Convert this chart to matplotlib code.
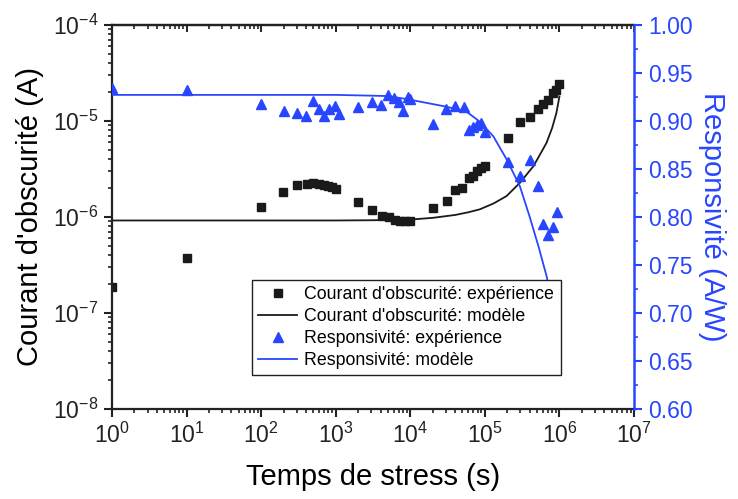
import matplotlib
matplotlib.use("Agg")
import matplotlib.pyplot as plt
from matplotlib.lines import Line2D
from matplotlib.ticker import LogLocator, MultipleLocator, NullFormatter

plt.rcParams['font.family'] = ['Liberation Sans', 'DejaVu Sans']
plt.rcParams['mathtext.fontset'] = 'custom'
plt.rcParams['mathtext.rm'] = 'Liberation Sans'
plt.rcParams['mathtext.it'] = 'Liberation Sans:italic'
plt.rcParams['mathtext.bf'] = 'Liberation Sans:bold'
plt.rcParams['mathtext.default'] = 'regular'

# Dark current experiment
t_dark = [1, 10, 100, 195, 300, 410, 500, 600, 700, 800, 900, 1000, 2000, 3100, 4200, 5200,
          6200, 7300, 8500, 9800, 2.0e4, 3.1e4, 4.0e4, 5.0e4, 6.1e4, 6.9e4, 7.9e4, 8.8e4, 1.02e5,
          2.05e5, 3.0e5, 4.0e5, 5.1e5, 6.0e5, 7.1e5, 8.2e5, 9.0e5, 1.0e6]
i_dark = [1.86e-7, 3.7e-7, 1.26e-6, 1.8e-6, 2.13e-6, 2.22e-6, 2.27e-6, 2.22e-6, 2.17e-6, 2.1e-6,
          2.03e-6, 1.97e-6, 1.45e-6, 1.17e-6, 1.03e-6, 1.0e-6, 9.2e-7, 9.0e-7, 9.0e-7, 9.0e-7,
          1.25e-6, 1.46e-6, 1.9e-6, 2.0e-6, 2.55e-6, 2.7e-6, 3.0e-6, 3.25e-6, 3.4e-6,
          6.7e-6, 9.8e-6, 1.09e-5, 1.33e-5, 1.5e-5, 1.66e-5, 1.95e-5, 2.1e-5, 2.4e-5]

# Dark current model
t_dark_mod = [1, 1e2, 1e3, 3e3, 1e4, 2e4, 4e4, 6e4, 8.5e4, 1.3e5, 1.95e5, 2.95e5, 4.5e5,
              6.7e5, 8e5, 9.1e5, 1e6]
i_dark_mod = [9.2e-7, 9.2e-7, 9.2e-7, 9.25e-7, 9.4e-7, 9.8e-7, 1.05e-6, 1.12e-6, 1.2e-6,
              1.38e-6, 1.65e-6, 2.27e-6, 3.4e-6, 5.9e-6, 8.5e-6, 1.21e-5, 1.8e-5]

# Responsivity experiment
t_resp = [1, 10, 100, 200, 300, 400, 500, 590, 700, 820, 990, 1100, 2000, 3100, 4100, 5100,
          6000, 7000, 8000, 9400, 1.0e4, 2.0e4, 3.0e4, 4.0e4, 5.2e4, 6.1e4, 7.0e4, 7.9e4, 9.0e4,
          1.02e5, 2.05e5, 3.0e5, 4.05e5, 5.1e5, 6.0e5, 7.1e5, 8.2e5, 9.3e5]
r_resp = [0.934, 0.932, 0.9176, 0.9106, 0.9088, 0.9047, 0.921, 0.912, 0.9054, 0.912, 0.916,
          0.9075, 0.9145, 0.9196, 0.9168, 0.927, 0.9238, 0.920, 0.910, 0.925, 0.923, 0.8968,
          0.913, 0.9158, 0.915, 0.891, 0.8937, 0.896, 0.8984, 0.8888, 0.857, 0.8423, 0.8597,
          0.832, 0.7928, 0.781, 0.790, 0.805]

# Responsivity model
t_resp_mod = [1, 1e3, 5e3, 9e3, 3e4, 5.6e4, 8.5e4, 1.3e5, 1.96e5, 2.95e5, 4e5, 5.3e5, 6.8e5, 8e5]
r_resp_mod = [0.9272, 0.9272, 0.926, 0.9228, 0.915, 0.91, 0.8995, 0.884, 0.86, 0.832, 0.80,
              0.768, 0.737, 0.70]

BLUE = '#2846ff'
DARK = '#1a1a1a'
TXT = '#222222'

fig = plt.figure(figsize=(7.38, 4.99), dpi=100)
ax = fig.add_axes([112/738, 1-409/499, (634-112)/738, (409-25)/499])
ax2 = ax.twinx()

ax.plot(t_dark_mod, i_dark_mod, '-', color=DARK, lw=1.3)
ax.plot(t_dark, i_dark, 's', color=DARK, ms=5.2, mec=DARK)
ax2.plot(t_resp_mod, r_resp_mod, '-', color=BLUE, lw=1.3)
ax2.plot(t_resp, r_resp, '^', color=BLUE, ms=7, mec=BLUE)

ax.set_xscale('log')
ax.set_yscale('log')
ax.set_xlim(1, 1e7)
ax.set_ylim(1e-8, 1e-4)
ax2.set_ylim(0.60, 1.00)

ax.xaxis.set_major_locator(LogLocator(base=10, numticks=20))
ax.xaxis.set_minor_locator(LogLocator(base=10, subs=range(2, 10), numticks=20))
ax.xaxis.set_minor_formatter(NullFormatter())
ax.yaxis.set_major_locator(LogLocator(base=10, numticks=20))
ax.yaxis.set_minor_locator(LogLocator(base=10, subs=range(2, 10), numticks=20))
ax.yaxis.set_minor_formatter(NullFormatter())
ax2.yaxis.set_major_locator(MultipleLocator(0.05))
ax2.yaxis.set_minor_locator(MultipleLocator(0.025))
ax2.yaxis.set_major_formatter(plt.FuncFormatter(lambda v, p: f"{v:.2f}"))

for sp in ['left', 'bottom', 'top']:
    ax.spines[sp].set_linewidth(1.6)
    ax.spines[sp].set_color(TXT)
ax.spines['right'].set_visible(False)
ax2.spines['right'].set_color(BLUE)
ax2.spines['right'].set_linewidth(1.8)
ax2.spines['left'].set_visible(False)
ax2.spines['top'].set_visible(False)
ax2.spines['bottom'].set_visible(False)

ax.tick_params(axis='both', which='major', direction='out', length=6, width=1.5,
               labelsize=16.5, colors=TXT, top=False, right=False, pad=4)
ax.tick_params(axis='both', which='minor', direction='out', length=3, width=1.2,
               colors=TXT, top=False, right=False)

# top axis with inward ticks, no labels
secx = ax.secondary_xaxis('top')
secx.set_xscale('log')
secx.xaxis.set_major_locator(LogLocator(base=10, numticks=20))
secx.xaxis.set_minor_locator(LogLocator(base=10, subs=range(2, 10), numticks=20))
secx.tick_params(which='major', direction='in', length=5, width=1.4, colors=TXT,
                 labeltop=False)
secx.tick_params(which='minor', direction='in', length=3, width=1.2, colors=TXT)
secx.xaxis.set_major_formatter(NullFormatter())
secx.xaxis.set_minor_formatter(NullFormatter())
secx.spines['top'].set_linewidth(1.6)
secx.spines['top'].set_color(TXT)

ax2.tick_params(axis='y', which='major', direction='out', length=6, width=1.5,
                labelsize=16.5, colors=BLUE, pad=4)
ax2.tick_params(axis='y', which='minor', direction='out', length=3, width=1.2, colors=BLUE)

ax.set_xlabel('Temps de stress (s)', fontsize=21, labelpad=11)
ax.set_ylabel("Courant d'obscurité (A)", fontsize=21, labelpad=6)
ax2.set_ylabel('Responsivité (A/W)', fontsize=21, color=BLUE, rotation=270, labelpad=24)

handles = [
    Line2D([], [], ls='none', marker='s', color=DARK, ms=5.2),
    Line2D([], [], ls='-', color=DARK, lw=1.3),
    Line2D([], [], ls='none', marker='^', color=BLUE, ms=7),
    Line2D([], [], ls='-', color=BLUE, lw=1.3),
]
labels = ["Courant d'obscurité: expérience", "Courant d'obscurité: modèle",
          "Responsivité: expérience", "Responsivité: modèle"]
leg = ax2.legend(handles, labels, loc='upper left',
                 bbox_to_anchor=((252-112)/522, (409-280)/384),
                 fontsize=12.8, frameon=True, fancybox=False, framealpha=1,
                 edgecolor=TXT, borderpad=0.35, labelspacing=0.28,
                 handlelength=2.2, handletextpad=0.4, borderaxespad=0)
leg.get_frame().set_linewidth(1.0)
leg.set_zorder(10)

fig.savefig('out.png', dpi=100)
